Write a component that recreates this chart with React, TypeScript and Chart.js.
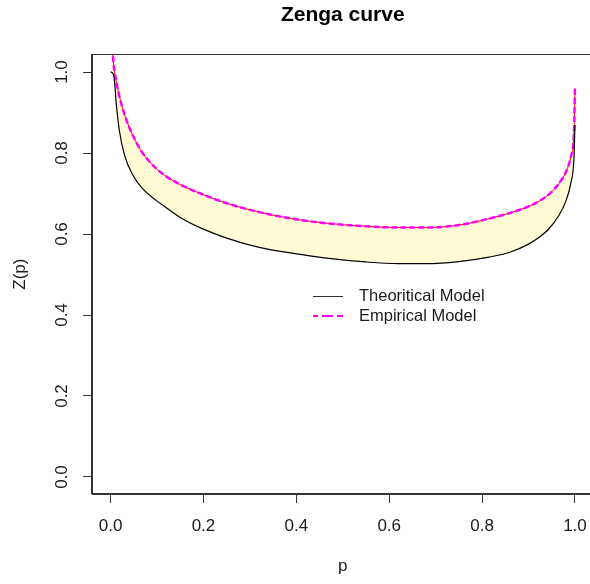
import React, { useEffect, useRef } from "react";
import { Chart, registerables } from "chart.js";

Chart.register(...registerables);

const chartTitle = "Zenga curve";
const xAxisTitle = "p";
const yAxisTitle = "Z(p)";
const legendLabels = ["Theoritical Model", "Empirical Model"];

const pValues = [
  0, 0.006, 0.009, 0.012, 0.019, 0.03, 0.048, 0.069, 0.098, 0.12, 0.15, 0.2,
  0.25, 0.32, 0.39, 0.47, 0.55, 0.62, 0.68, 0.75, 0.815, 0.86, 0.9, 0.923,
  0.944, 0.965, 0.98, 0.991, 0.998, 1.0,
];

const theoreticalZ = [
  1.0, 0.995, 0.97, 0.925, 0.855, 0.795, 0.745, 0.712, 0.683, 0.665, 0.641,
  0.612, 0.59, 0.567, 0.553, 0.54, 0.531, 0.527, 0.527, 0.532, 0.543, 0.555,
  0.575, 0.592, 0.613, 0.645, 0.68, 0.725, 0.79, 0.869,
];

const empiricalZ = [
  1.15, 1.025, 0.998, 0.978, 0.94, 0.895, 0.843, 0.8, 0.762, 0.742, 0.722,
  0.697, 0.676, 0.654, 0.638, 0.626, 0.619, 0.616, 0.616, 0.622, 0.638,
  0.652, 0.668, 0.681, 0.698, 0.724, 0.752, 0.79, 0.855, 0.96,
];

const xTicks = [0, 0.2, 0.4, 0.6, 0.8, 1.0];
const yTicks = [0, 0.2, 0.4, 0.6, 0.8, 1.0];

const FONT = "'Liberation Sans', Arial, Helvetica, sans-serif";

export default function App() {
  const ref = useRef<HTMLCanvasElement>(null);

  useEffect(() => {
    document.body.style.margin = "0";
    const canvas = ref.current;
    if (!canvas) return;

    const boxPlugin = {
      id: "rbox",
      afterDatasetsDraw(chart: any) {
        const { ctx, chartArea: a } = chart;
        ctx.save();
        ctx.strokeStyle = "#333";
        ctx.lineWidth = 1;
        ctx.strokeRect(
          Math.round(a.left) - 0.5,
          Math.round(a.top) + 0.5,
          Math.round(a.right - a.left),
          Math.round(a.bottom - a.top) - 1
        );
        ctx.restore();
      },
    };

    const legendPlugin = {
      id: "rlegend",
      afterDraw(chart: any) {
        const c = chart.ctx;
        const x0 = 313;
        const x1 = 343;
        const tx = 359;
        const rows = [296, 316];
        c.save();
        c.lineWidth = 1;
        c.strokeStyle = "#333";
        c.beginPath();
        c.moveTo(x0, rows[0] + 0.5);
        c.lineTo(x1, rows[0] + 0.5);
        c.stroke();
        c.strokeStyle = "#FF00FF";
        c.lineWidth = 2;
        c.setLineDash([11, 4]);
        c.lineDashOffset = 6;
        c.beginPath();
        c.moveTo(x0, rows[1]);
        c.lineTo(x1, rows[1]);
        c.stroke();
        c.setLineDash([]);
        c.fillStyle = "#1a1a1a";
        c.font = `16.5px ${FONT}`;
        c.textBaseline = "middle";
        c.textAlign = "left";
        c.fillText(legendLabels[0], tx, rows[0]);
        c.fillText(legendLabels[1], tx, rows[1]);
        c.restore();
      },
    };

    const theoPts = pValues.map((p, i) => ({ x: p, y: theoreticalZ[i] }));
    const empPts = pValues.map((p, i) => ({ x: p, y: empiricalZ[i] }));

    const chart = new Chart(canvas, {
      type: "line",
      data: {
        datasets: [
          {
            label: legendLabels[0],
            data: theoPts,
            borderColor: "#000000",
            borderWidth: 1.2,
            pointRadius: 0,
            fill: false,
            cubicInterpolationMode: "monotone",
          },
          {
            label: legendLabels[1],
            data: empPts,
            borderColor: "#FF00FF",
            borderWidth: 2.5,
            borderDash: [6, 3],
            pointRadius: 0,
            fill: false,
            cubicInterpolationMode: "monotone",
          },
          {
            label: "empirical-base",
            data: empPts,
            borderColor: "#FF0000",
            borderWidth: 1,
            pointRadius: 0,
            fill: 0,
            backgroundColor: "#FFFCD5",
            cubicInterpolationMode: "monotone",
          },
        ],
      } as any,
      options: {
        responsive: false,
        animation: false,
        devicePixelRatio: 1,
        layout: { padding: { left: 0, right: 5, top: 0, bottom: 0 } },
        plugins: {
          legend: { display: false },
          tooltip: { enabled: false },
          filler: { drawTime: "beforeDatasetsDraw" },
          title: {
            display: true,
            text: chartTitle,
            fullSize: false,
            color: "#000",
            font: { family: FONT, size: 21, weight: "bold" },
            padding: { top: 3, bottom: 26 },
          },
        } as any,
        scales: {
          x: {
            type: "linear",
            min: -0.04,
            max: 1.04,
            afterFit: (s: any) => {
              s.height = 90;
            },
            afterBuildTicks: (s: any) => {
              s.ticks = xTicks.map((v) => ({ value: v }));
            },
            grid: {
              display: true,
              drawOnChartArea: false,
              drawTicks: true,
              tickLength: 9,
              color: "#333",
            },
            border: { display: true, color: "#333" },
            ticks: {
              color: "#1a1a1a",
              font: { family: FONT, size: 17 },
              padding: 13,
              maxRotation: 0,
              autoSkip: false,
              callback: (v: any) => Number(v).toFixed(1),
            },
            title: {
              display: true,
              text: xAxisTitle,
              color: "#1a1a1a",
              font: { family: FONT, size: 17 },
              padding: { top: 0, bottom: 7 },
            },
          },
          y: {
            type: "linear",
            min: -0.042,
            max: 1.044,
            afterFit: (s: any) => {
              s.width = 92;
            },
            afterBuildTicks: (s: any) => {
              s.ticks = yTicks.map((v) => ({ value: v }));
            },
            grid: {
              display: true,
              drawOnChartArea: false,
              drawTicks: true,
              tickLength: 9,
              color: "#333",
            },
            border: { display: true, color: "#333" },
            ticks: {
              color: "#1a1a1a",
              font: { family: FONT, size: 17 },
              padding: 9,
              minRotation: 90,
              maxRotation: 90,
              crossAlign: "center",
              autoSkip: false,
              callback: (v: any) => Number(v).toFixed(1),
            },
            title: {
              display: true,
              text: yAxisTitle,
              color: "#1a1a1a",
              font: { family: FONT, size: 17 },
              padding: { top: 10, bottom: 0 },
            },
          },
        },
      } as any,
      plugins: [boxPlugin, legendPlugin],
    });

    return () => chart.destroy();
  }, []);

  return (
    <div style={{ width: 590, height: 584, overflow: "hidden", position: "relative" }}>
      <canvas
        ref={ref}
        width={600}
        height={584}
        style={{ display: "block", width: 600, height: 584 }}
      />
    </div>
  );
}
